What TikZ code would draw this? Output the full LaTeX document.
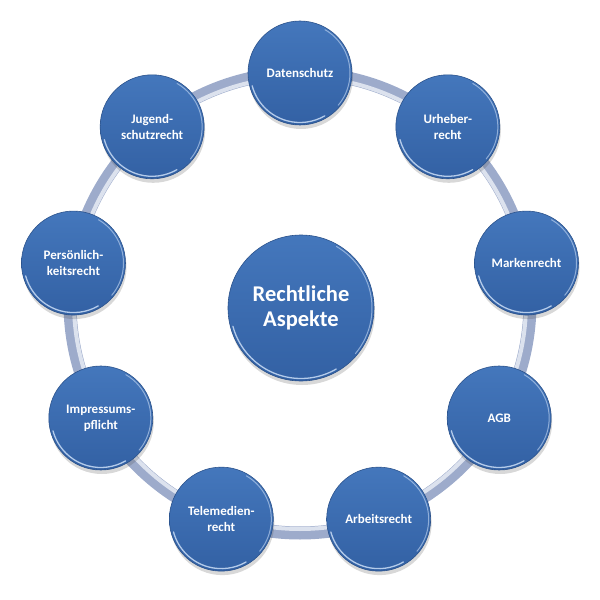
\documentclass[tikz,border=0pt]{standalone}
\usepackage{fontspec}
\setmainfont{Carlito}
\usetikzlibrary{shadows}
\definecolor{ringA}{HTML}{9DABCB}
\definecolor{ringB}{HTML}{DCE2EE}
\definecolor{ballTop}{HTML}{4477BC}
\definecolor{ballBot}{HTML}{3361A4}
\definecolor{rimc}{HTML}{B4CBEA}
\begin{document}
\begin{tikzpicture}[x=1pt,y=1pt,
  ball/.style={circle, minimum size=104pt, inner sep=0pt, top color=ballTop, bottom color=ballBot,
    draw=ballBot!85!black, line width=0.6pt, text=white, align=center,
    font=\bfseries\fontsize{13}{16}\selectfont,
    drop shadow={opacity=0.22, shadow xshift=1pt, shadow yshift=-4pt, fill=black!70}},
  bigball/.style={ball, minimum size=146pt, font=\bfseries\fontsize{22.5}{25}\selectfont},
  rimline/.style={rimc, line width=1.3pt, line cap=round}]
\useasboundingbox (-300,-297) rectangle (300,303);
\coordinate (ringc) at (0,0);
\draw[ringA, line width=13pt] (ringc) circle (230);
\draw[ringB, line width=4pt] (ringc) circle (226);
\node[bigball] (center) at (1,-5) {Rechtliche\\Aspekte};
\node[ball] (ds) at (90:230) {Datenschutz};
\node[ball] (ur) at (50:230) {Urheber-\\recht};
\node[ball] (mk) at (10:230) {Markenrecht};
\node[ball] (agb) at (-30:230) {AGB};
\node[ball] (ar) at (-70:230) {Arbeitsrecht};
\node[ball] (tm) at (-110:230) {Telemedien-\\recht};
\node[ball] (ip) at (-150:230) {Impressums-\\pflicht};
\node[ball] (pk) at (170:230) {Persönlich-\\keitsrecht};
\node[ball] (jg) at (130:230) {Jugend-\\schutzrecht};
\foreach \n in {ds,ur,mk,agb,ar,tm,ip,pk,jg}{
  \draw[rimline] (\n.center) ++(195:49.5) arc (195:300:49.5);
  \draw[rimline, line width=1pt, opacity=0.7] (\n.center) ++(-40:50) arc (-40:60:50);
}
\draw[rimline] (center.center) ++(195:70.5) arc (195:300:70.5);
\draw[rimline, line width=1pt, opacity=0.7] (center.center) ++(-40:71) arc (-40:60:71);
\end{tikzpicture}
\end{document}
